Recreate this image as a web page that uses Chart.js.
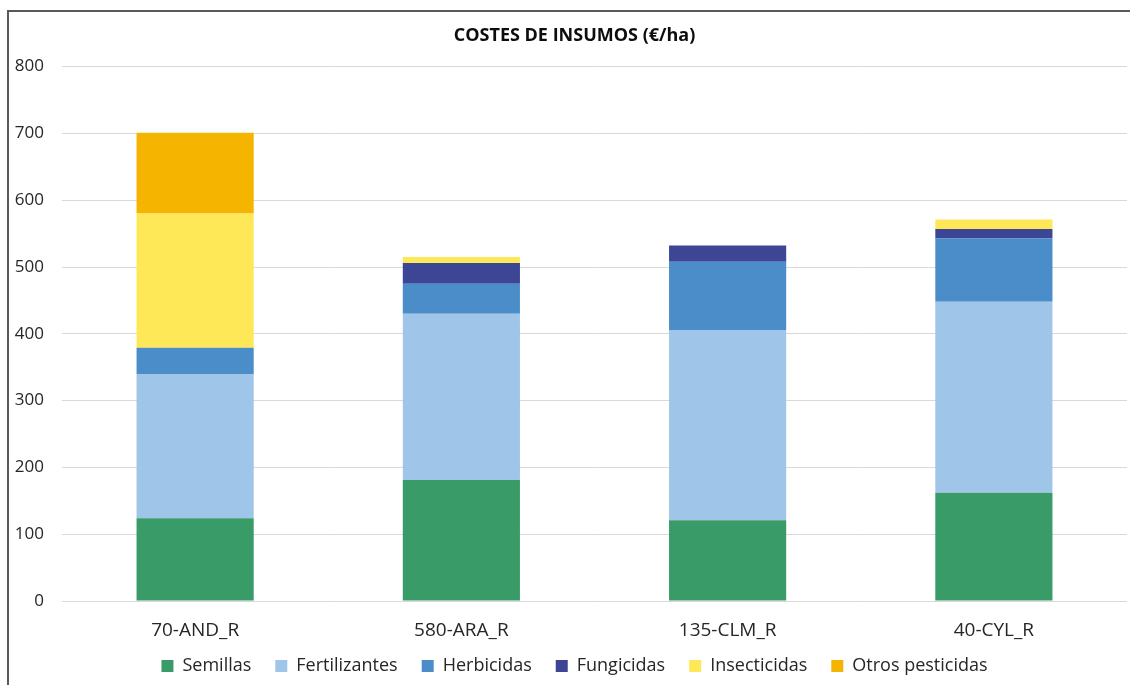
<!DOCTYPE html>
<html>
<head>
<meta charset="utf-8">
<script src="https://cdn.jsdelivr.net/npm/chart.js@4"></script>
<style>
  html, body { margin: 0; padding: 0; background: #fff; }
  #frame {
    position: absolute; left: 7px; top: 10px; width: 1123px; height: 675px;
    border-left: 2px solid #595959; border-top: 2px solid #595959;
    box-sizing: border-box;
  }
  #wrap { position: absolute; left: 0; top: 0; width: 1130px; height: 685px; }
</style>
</head>
<body>
<div id="frame"></div>
<div id="wrap"><canvas id="insumosChart" width="1130" height="685"></canvas></div>
<script>
const categorias = ['70-AND_R', '580-ARA_R', '135-CLM_R', '40-CYL_R'];
const semillas = [124, 181, 121, 162];
const fertilizantes = [216, 249, 284, 286];
const herbicidas = [39, 45, 103, 95];
const fungicidas = [0, 31, 24, 14];
const insecticidas = [201, 9, 0, 14];
const otrosPesticidas = [121, 0, 0, 0];
const yTicks = [0, 100, 200, 300, 400, 500, 600, 700, 800];

const fuente = "'Open Sans', 'Noto Sans', sans-serif";

// los ejes se acortan para ajustar la posición; se alargan sus cajas para que no recorten las etiquetas
const extenderEjes = {
    id: 'extenderEjes',
    afterLayout(chart) {
        chart.scales.x.bottom = chart.height;
        chart.scales.y.left = 0;
    }
};

const ctx = document.getElementById('insumosChart').getContext('2d');
new Chart(ctx, {
    type: 'bar',
    data: {
        labels: categorias,
        datasets: [
            { label: 'Semillas', data: semillas, backgroundColor: '#389b68' },
            { label: 'Fertilizantes', data: fertilizantes, backgroundColor: '#9fc5e8' },
            { label: 'Herbicidas', data: herbicidas, backgroundColor: '#4a8dc8' },
            { label: 'Fungicidas', data: fungicidas, backgroundColor: '#3d4595' },
            { label: 'Insecticidas', data: insecticidas, backgroundColor: '#ffe858' },
            { label: 'Otros pesticidas', data: otrosPesticidas, backgroundColor: '#f5b400' }
        ]
    },
    options: {
        responsive: false,
        animation: false,
        layout: { padding: { left: 22, right: 3, top: 12, bottom: 0 } },
        datasets: { bar: { barPercentage: 1, categoryPercentage: 0.44 } },
        scales: {
            x: {
                stacked: true,
                grid: { display: false, drawTicks: false },
                border: { display: false },
                ticks: { color: '#262626', font: { family: fuente, size: 19 }, padding: 18 },
                afterFit: scale => { scale.height = 32; }
            },
            y: {
                stacked: true,
                min: 0,
                max: 800,
                afterBuildTicks: axis => { axis.ticks = yTicks.map(v => ({ value: v })); },
                afterFit: scale => { scale.width = 40; },
                grid: { color: '#d9d9d9', lineWidth: 1, drawTicks: false },
                border: { display: false },
                ticks: { color: '#262626', font: { family: fuente, size: 17 }, padding: 18 }
            }
        },
        plugins: {
            title: {
                display: true,
                text: 'COSTES DE INSUMOS (€/ha)',
                color: '#0d0d0d',
                font: { family: fuente, size: 18, weight: 'bold' },
                padding: { top: 13, bottom: 20 }
            },
            legend: {
                position: 'bottom',
                maxHeight: 52,
                labels: {
                    color: '#262626',
                    font: { family: fuente, size: 18 },
                    boxWidth: 12,
                    boxHeight: 12,
                    padding: 24
                }
            },
            tooltip: { enabled: false }
        }
    },
    plugins: [extenderEjes]
});
</script>
</body>
</html>
